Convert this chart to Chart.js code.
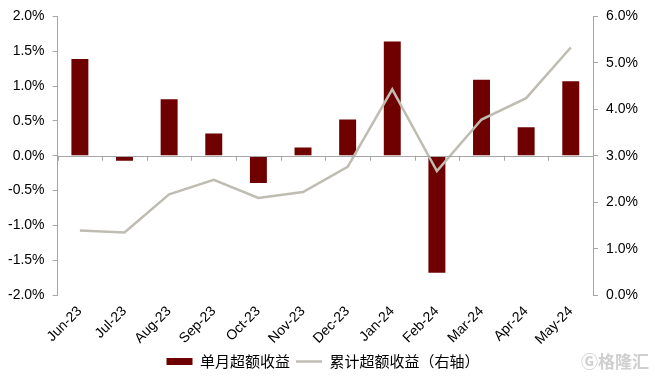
<!DOCTYPE html>
<html>
<head>
<meta charset="utf-8">
<script src="https://cdn.jsdelivr.net/npm/chart.js@4"></script>
<style>
  html, body { margin: 0; padding: 0; background: #fff; }
  #wrap { width: 655px; height: 379px; }
</style>
</head>
<body>
<div id="wrap"><canvas id="excessChart"></canvas></div>
<script>
const months = ['Jun-23', 'Jul-23', 'Aug-23', 'Sep-23', 'Oct-23', 'Nov-23', 'Dec-23', 'Jan-24', 'Feb-24', 'Mar-24', 'Apr-24', 'May-24'];
const monthlyExcess = [1.39, -0.07, 0.81, 0.32, -0.39, 0.12, 0.52, 1.64, -1.68, 1.09, 0.41, 1.07];
const cumulativeExcess = [1.39, 1.35, 2.17, 2.48, 2.09, 2.22, 2.76, 4.43, 2.67, 3.78, 4.24, 5.33];
const leftTicks = [-2.0, -1.5, -1.0, -0.5, 0.0, 0.5, 1.0, 1.5, 2.0];
const rightTicks = [0, 1, 2, 3, 4, 5, 6];

const axisGray = '#a6a6a6';
const tickFont = { family: '"Liberation Sans", Arial, sans-serif', size: 14 };

// small tick marks along the zero line, at the category boundaries
const zeroTicks = {
    id: 'zeroTicks',
    afterDatasetsDraw(chart) {
        const x = chart.scales.x, y = chart.scales.y;
        const y0 = y.getPixelForValue(0);
        const ctx = chart.ctx;
        ctx.save();
        ctx.strokeStyle = axisGray;
        ctx.lineWidth = 1;
        ctx.beginPath();
        ctx.moveTo(chart.chartArea.left, Math.round(y0) + 0.5);
        ctx.lineTo(chart.chartArea.right, Math.round(y0) + 0.5);
        for (let i = 0; i <= months.length; i++) {
            const px = Math.round(x.getPixelForValue(i - 0.5)) + 0.5;
            ctx.moveTo(px, y0);
            ctx.lineTo(px, y0 + 5);
        }
        ctx.stroke();
        ctx.restore();
    }
};

const watermark = {
    id: 'watermark',
    afterDraw(chart) {
        const ctx = chart.ctx;
        ctx.save();
        ctx.fillStyle = '#cfcfcf';
        ctx.font = 'bold 17px "Noto Sans CJK SC", sans-serif';
        ctx.textAlign = 'right';
        ctx.textBaseline = 'middle';
        ctx.fillText('Ⓖ格隆汇', chart.width - 6, 362);
        ctx.restore();
    }
};

const excessChart = new Chart(document.getElementById('excessChart'), {
    data: {
        labels: months,
        datasets: [{
            type: 'bar',
            label: '单月超额收益',
            data: monthlyExcess,
            backgroundColor: '#6e0000',
            borderWidth: 0,
            barPercentage: 0.38,
            categoryPercentage: 1,
            yAxisID: 'y',
            order: 1
        }, {
            type: 'line',
            label: '累计超额收益（右轴）',
            data: cumulativeExcess,
            borderColor: '#bfbcb2',
            backgroundColor: '#bfbcb2',
            borderWidth: 2.5,
            pointRadius: 0,
            tension: 0,
            yAxisID: 'y1',
            order: 0
        }]
    },
    options: {
        responsive: true,
        maintainAspectRatio: false,
        animation: false,
        layout: { padding: { left: 0, right: 9, top: 10, bottom: 0 } },
        scales: {
            x: {
                offset: true,
                grid: { display: false },
                border: { display: false },
                ticks: {
                    color: '#000',
                    font: tickFont,
                    minRotation: 45,
                    maxRotation: 45,
                    padding: 0
                }
            },
            y: {
                position: 'left',
                min: -2,
                max: 2,
                afterBuildTicks(scale) { scale.ticks = leftTicks.map(v => ({ value: v })); },
                grid: { drawOnChartArea: false, tickLength: 5, tickColor: axisGray },
                border: { color: axisGray },
                ticks: {
                    color: '#000',
                    font: tickFont,
                    padding: 8,
                    callback: v => v.toFixed(1) + '%'
                }
            },
            y1: {
                position: 'right',
                min: 0,
                max: 6,
                afterBuildTicks(scale) { scale.ticks = rightTicks.map(v => ({ value: v })); },
                grid: { drawOnChartArea: false, tickLength: 5, tickColor: axisGray },
                border: { color: axisGray },
                ticks: {
                    color: '#000',
                    font: tickFont,
                    padding: 8,
                    callback: v => v.toFixed(1) + '%'
                }
            }
        },
        plugins: {
            tooltip: { enabled: false },
            legend: {
                position: 'bottom',
                labels: {
                    color: '#000',
                    font: { family: '"Noto Sans CJK SC", sans-serif', size: 15 },
                    usePointStyle: true,
                    pointStyleWidth: 26,
                    boxHeight: 7,
                    padding: 6,
                    sort: (a, b) => a.datasetIndex - b.datasetIndex,
                    generateLabels(chart) {
                        return chart.data.datasets.map((ds, i) => ({
                            text: ds.label,
                            datasetIndex: i,
                            fillStyle: ds.backgroundColor,
                            strokeStyle: ds.type === 'line' ? ds.borderColor : ds.backgroundColor,
                            lineWidth: ds.type === 'line' ? 2.5 : 0,
                            pointStyle: ds.type === 'line' ? 'line' : 'rect',
                            fontColor: '#000',
                            hidden: false
                        }));
                    }
                }
            }
        }
    },
    plugins: [zeroTicks, watermark]
});
</script>
</body>
</html>
